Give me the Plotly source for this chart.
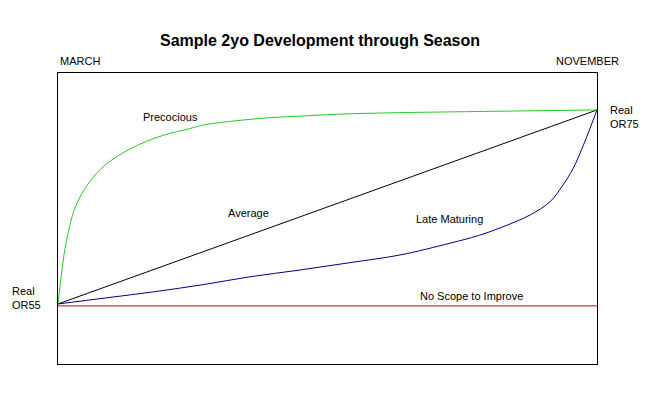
import plotly.graph_objects as go

# season progress (% of season, March=0 .. November=100) and official rating
prec_x = [0, 0.7, 1.3, 2.2, 3.15, 5.0, 6.9, 8.7, 11.8, 14.9, 18.0, 20.8, 23.6, 27.0, 33.2,
          39.3, 45.5, 51.7, 57.9, 64.0, 72.7, 86.0, 100]
prec_y = [55, 58.3, 60.7, 63.1, 64.9, 66.9, 68.3, 69.3, 70.5, 71.4, 72.1, 72.6, 72.95, 73.45, 73.9,
          74.2, 74.38, 74.56, 74.66, 74.73, 74.8, 74.9, 75]

avg_x = [0, 100]
avg_y = [55, 75]

late_x = [0, 9, 18, 27, 35.6, 44.9, 54.2, 63.45, 72.7, 78.0, 82.3, 87.6, 91.3, 93.7, 95.6, 97.5, 98.7, 100]
late_y = [55, 55.63, 56.27, 57.0, 57.8, 58.5, 59.26, 60.05, 61.26, 62.05, 62.9, 64.18, 65.55, 67.27,
          69.0, 71.4, 73.1, 75]

flat_x = [0, 100]
flat_y = [54.8, 54.8]

series_labels = ["Precocious", "Average", "Late Maturing", "No Scope to Improve"]
title_text = "Sample 2yo Development through Season"

FONT = "Liberation Sans, Arial, sans-serif"

fig = go.Figure()
fig.add_trace(go.Scatter(x=flat_x, y=flat_y, mode="lines", line=dict(color="#cc0000", width=1)))
fig.add_trace(go.Scatter(x=late_x, y=late_y, mode="lines", line=dict(color="#00008b", width=1, shape="spline", smoothing=1)))
fig.add_trace(go.Scatter(x=avg_x, y=avg_y, mode="lines", line=dict(color="black", width=1)))
fig.add_trace(go.Scatter(x=prec_x, y=prec_y, mode="lines", line=dict(color="#22cc22", width=1, shape="spline", smoothing=1)))

# labels inside the plot (data coordinates)
inner = [
    dict(text=series_labels[0], x=20.8, y=74.28),
    dict(text=series_labels[1], x=35.4, y=64.4),
    dict(text=series_labels[2], x=72.7, y=63.8),
    dict(text=series_labels[3], x=76.8, y=55.85),
]
for a in inner:
    fig.add_annotation(xref="x", yref="y", showarrow=False, xanchor="center", yanchor="middle",
                       font=dict(family=FONT, size=11, color="black"), **a)

# labels outside the plot (paper coordinates)
outer = [
    dict(text="MARCH", x=0, y=1.041, xanchor="left"),
    dict(text="NOVEMBER", x=1.0445, y=1.041, xanchor="right"),
    dict(text="Real<br>OR55", x=-0.089, y=0.227, xanchor="left", align="left"),
    dict(text="Real<br>OR75", x=1.0204, y=0.849, xanchor="left", align="left"),
]
for a in outer:
    fig.add_annotation(xref="paper", yref="paper", showarrow=False, yanchor="middle",
                       font=dict(family=FONT, size=11, color="black"), **a)

fig.update_layout(
    width=644, height=391,
    margin=dict(l=50, r=55, t=65, b=35),
    paper_bgcolor="white", plot_bgcolor="white",
    showlegend=False,
    title=dict(text="<b>" + title_text + "</b>", x=0.4845, xanchor="center", y=0.918, yanchor="middle",
               font=dict(family=FONT, size=16, color="black")),
    xaxis=dict(range=[0, 100], showgrid=False, zeroline=False, showticklabels=False, ticks="",
               showline=True, mirror=True, linecolor="black", linewidth=1),
    yaxis=dict(range=[48.81, 78.81], showgrid=False, zeroline=False, showticklabels=False, ticks="",
               showline=True, mirror=True, linecolor="black", linewidth=1),
)
fig.write_html("out.html")
